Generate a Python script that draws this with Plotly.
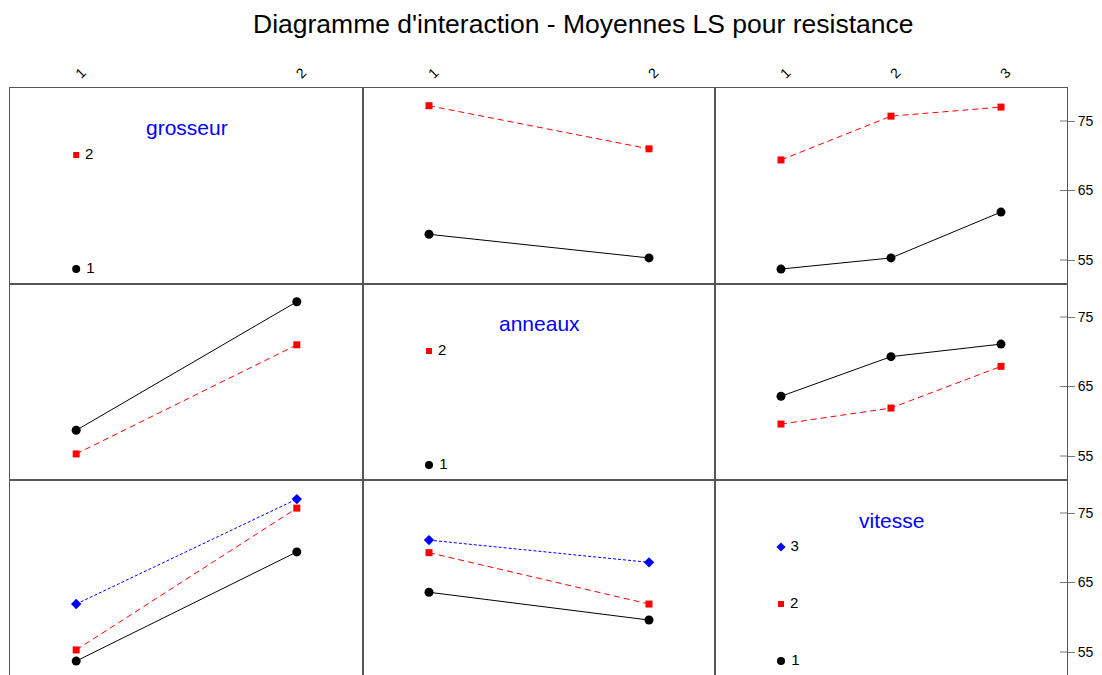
import plotly.graph_objects as go

# ---------------- data ----------------
factors = ["grosseur", "anneaux", "vitesse"]
levels = {"grosseur": ["1", "2"], "anneaux": ["1", "2"], "vitesse": ["1", "2", "3"]}

# LS means: rows = levels of first factor, cols = levels of second factor
means_grosseur_anneaux = [[58.7, 55.3],          # grosseur 1 : anneaux 1, 2
                          [77.2, 71.0]]          # grosseur 2
means_grosseur_vitesse = [[53.7, 55.3, 61.9],    # grosseur 1 : vitesse 1, 2, 3
                          [69.4, 75.7, 77.0]]    # grosseur 2
means_anneaux_vitesse = [[63.6, 69.3, 71.1],     # anneaux 1 : vitesse 1, 2, 3
                         [59.6, 61.9, 67.9]]     # anneaux 2

y_ticks = [55, 65, 75]
title_text = "Diagramme d'interaction - Moyennes LS pour resistance"


def table(fa, fb):
    """means[level of fa][level of fb]"""
    if (fa, fb) == ("grosseur", "anneaux"):
        return means_grosseur_anneaux
    if (fa, fb) == ("grosseur", "vitesse"):
        return means_grosseur_vitesse
    if (fa, fb) == ("anneaux", "vitesse"):
        return means_anneaux_vitesse
    t = table(fb, fa)
    return [list(r) for r in zip(*t)]


# ---------------- styling ----------------
W, H = 1102, 675
OFF = 7  # page body offset of the figure div
ml, mr, mt = 9 - OFF, W - 1066 + OFF, 87 - OFF
mb = OFF
pw, ph = W - ml - mr, H - mt - mb
col_px = [(0, 353), (353, 705), (705, pw)]
row_px = [(0, 196), (196, 392), (392, ph)]  # from top
y_range = [51.55, 79.75]
FONT = "Liberation Sans, Arial, sans-serif"
LINE_COL = "#555555"

styles = [
    dict(color="black", dash="solid", symbol="circle", size=9),
    dict(color="red", dash="6px,4px", symbol="square", size=7),
    dict(color="blue", dash="3px,2px", symbol="diamond", size=8),
]

fig = go.Figure()
layout = dict(
    width=W, height=H,
    margin=dict(l=ml, r=mr, t=mt, b=mb, autoexpand=False),
    paper_bgcolor="white", plot_bgcolor="white",
    showlegend=False,
    font=dict(family=FONT, color="black"),
    shapes=[], annotations=[],
)

for r, frow in enumerate(factors):
    for c, fcol in enumerate(factors):
        k = r * 3 + c + 1
        sx = "" if k == 1 else str(k)
        nx = len(levels[fcol])
        pad = 0.3 if nx == 2 else 0.6
        xr = [1 - pad, nx + pad]
        xa = dict(
            domain=[col_px[c][0] / pw, col_px[c][1] / pw],
            anchor="y" + sx, range=xr, automargin=False,
            showgrid=False, zeroline=False,
            showline=True, mirror=True, linecolor=LINE_COL, linewidth=1,
            tickvals=list(range(1, nx + 1)), ticktext=levels[fcol],
            showticklabels=(r == 0), side="top" if r == 0 else "bottom",
            tickangle=-45, ticks="", tickfont=dict(size=14, family=FONT),
        )
        ya = dict(
            domain=[1 - row_px[r][1] / ph, 1 - row_px[r][0] / ph],
            anchor="x" + sx, range=y_range, automargin=False,
            showgrid=False, zeroline=False,
            showline=True, mirror=True, linecolor=LINE_COL, linewidth=1,
            tickvals=y_ticks, ticktext=[str(v) for v in y_ticks],
            showticklabels=(c == 2), side="right",
            ticks="outside" if c == 2 else "", ticklen=7, tickcolor="#777777",
            tickfont=dict(size=14, family=FONT),
        )
        layout["xaxis" + sx] = xa
        layout["yaxis" + sx] = ya

        if r == c:
            # legend panel
            layout["annotations"].append(dict(
                text=frow, xref=f"x{sx} domain", yref=f"y{sx} domain",
                x=0.5, y=1 - 40 / 196, xanchor="center", yanchor="middle",
                showarrow=False, font=dict(size=21, color="blue", family=FONT)))
            nl = len(levels[frow])
            top_f, bot_f = 67 / 196, 181 / 196
            for i, lev in enumerate(levels[frow]):
                st = styles[i]
                f = bot_f - (bot_f - top_f) * (i / (nl - 1))
                yv = y_range[1] - f * (y_range[1] - y_range[0])
                fig.add_trace(go.Scatter(
                    x=[1], y=[yv], mode="markers+text", text=[" " + lev],
                    textposition="middle right",
                    textfont=dict(size=15, color="black", family=FONT),
                    marker=dict(color=st["color"], symbol=st["symbol"], size=st["size"] - 1),
                    xaxis="x" + sx, yaxis="y" + sx, hoverinfo="skip"))
        else:
            t = table(frow, fcol)
            for i, lev in enumerate(levels[frow]):
                st = styles[i]
                fig.add_trace(go.Scatter(
                    x=list(range(1, nx + 1)), y=t[i], mode="lines+markers",
                    line=dict(color=st["color"], dash=st["dash"], width=1),
                    marker=dict(color=st["color"], symbol=st["symbol"], size=st["size"]),
                    name=f"{frow} {lev}",
                    xaxis="x" + sx, yaxis="y" + sx))

        if c == 2:
            for tv in y_ticks:
                layout["shapes"].append(dict(
                    type="line", xref="paper", yref="y" + sx,
                    x0=1 - 7 / pw, x1=1, y0=tv, y1=tv,
                    line=dict(color="#777777", width=1)))

layout["annotations"].append(dict(
    text=title_text, xref="paper", yref="paper",
    x=(582 - OFF - ml) / pw, y=1 + mt / ph, xanchor="center", yanchor="top",
    borderpad=0, showarrow=False,
    font=dict(size=26.5, color="black", family=FONT)))

fig.update_layout(**layout)
fig.write_html("out.html")
